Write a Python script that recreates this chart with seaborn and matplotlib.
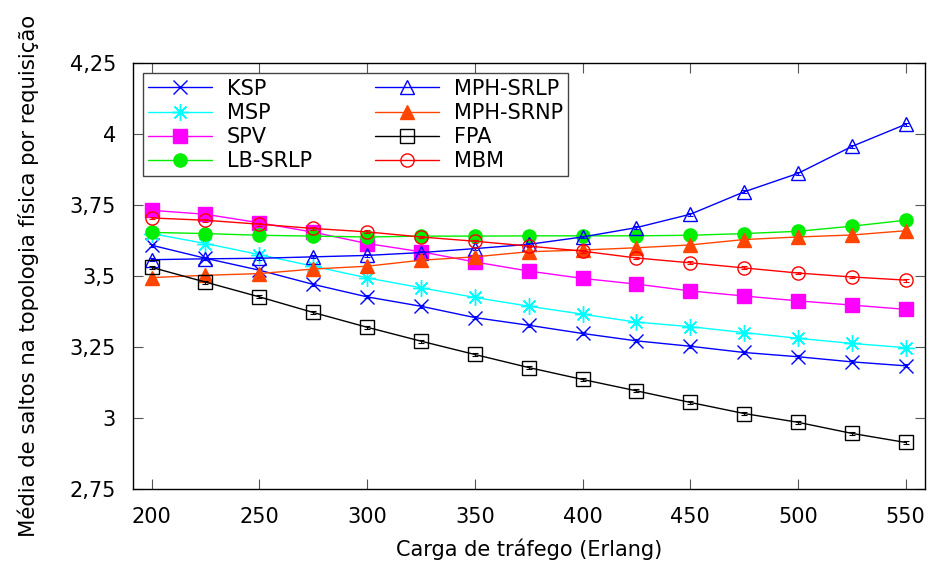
import numpy as np
import pandas as pd
import seaborn as sns
import matplotlib
matplotlib.use("Agg")
from matplotlib import pyplot as plt
from matplotlib.ticker import FixedLocator, FuncFormatter

# data
carga = [200, 225, 250, 275, 300, 325, 350, 375, 400, 425, 450, 475, 500, 525, 550]

ksp = [3.609, 3.563, 3.521, 3.471, 3.427, 3.394, 3.354, 3.327, 3.298, 3.272, 3.253, 3.231, 3.216, 3.198, 3.184]
msp = [3.650, 3.615, 3.576, 3.535, 3.494, 3.459, 3.425, 3.394, 3.366, 3.338, 3.322, 3.301, 3.281, 3.263, 3.248]
spv = [3.732, 3.718, 3.688, 3.655, 3.615, 3.586, 3.550, 3.518, 3.492, 3.472, 3.448, 3.430, 3.413, 3.398, 3.383]
lb_srlp = [3.654, 3.650, 3.644, 3.641, 3.638, 3.641, 3.641, 3.642, 3.642, 3.642, 3.644, 3.650, 3.658, 3.676, 3.697]
mph_srlp = [3.558, 3.561, 3.563, 3.568, 3.573, 3.583, 3.597, 3.612, 3.638, 3.671, 3.718, 3.797, 3.862, 3.957, 4.035]
mph_srnp = [3.495, 3.503, 3.509, 3.525, 3.535, 3.556, 3.568, 3.586, 3.592, 3.600, 3.610, 3.629, 3.638, 3.645, 3.660]
fpa = [3.531, 3.479, 3.427, 3.372, 3.320, 3.271, 3.224, 3.178, 3.136, 3.096, 3.055, 3.016, 2.985, 2.946, 2.914]
mbm = [3.705, 3.697, 3.683, 3.668, 3.656, 3.638, 3.623, 3.606, 3.588, 3.564, 3.547, 3.529, 3.511, 3.497, 3.486]

# half width of the small confidence bars
erro = [0.005, 0.005, 0.005, 0.005, 0.005, 0.005, 0.005, 0.005, 0.005, 0.005, 0.005, 0.005, 0.005, 0.005, 0.005]

nomes = ["KSP", "MSP", "SPV", "LB-SRLP", "MPH-SRLP", "MPH-SRNP", "FPA", "MBM"]
valores = [ksp, msp, spv, lb_srlp, mph_srlp, mph_srnp, fpa, mbm]
cores = ["#0000ff", "#00ffff", "#ff00ff", "#00ee00", "#0000ff", "#ff4500", "#000000", "#ff0000"]
# (8, 2, 0) is an eight arm asterisk, like gnuplot's '*'
marcadores = ["x", (8, 2, 0), "s", "o", "^", "^", "s", "o"]
tamanhos = [10, 12, 9.5, 9.5, 9.5, 9.5, 9.5, 9.5]
cheios = [True, True, True, True, False, True, False, False]

sns.set_style("ticks")
plt.rcParams['font.family'] = ['DejaVu Sans']
plt.rcParams['font.size'] = 15
plt.rcParams['text.color'] = 'black'
plt.rcParams['axes.labelcolor'] = 'black'

fig = plt.figure(figsize=(9.34, 5.65), dpi=100)
ax = fig.add_axes([0.142, 0.1345, 0.848, 0.7535])

for nome, val, cor, mk, ms, cheio in zip(nomes, valores, cores, marcadores, tamanhos, cheios):
    df = pd.DataFrame({"carga": carga, "saltos": val})
    kw = dict(mec=cor, mew=1.0)
    if cheio:
        kw["mfc"] = cor
    else:
        kw["mfc"] = "none"
    sns.lineplot(data=df, x="carga", y="saltos", ax=ax, color=cor, lw=1.0,
                 marker=mk, ms=ms, label=nome, **kw)
    ax.errorbar(carga, val, yerr=erro, fmt="none", ecolor=cor, elinewidth=0.8,
                capsize=2, capthick=0.8)

ax.set_xlim(191.2, 558.8)
ax.set_ylim(2.75, 4.25)
ax.xaxis.set_major_locator(FixedLocator([200, 250, 300, 350, 400, 450, 500, 550]))
ax.yaxis.set_major_locator(FixedLocator([2.75, 3.0, 3.25, 3.5, 3.75, 4.0, 4.25]))
ax.yaxis.set_major_formatter(FuncFormatter(lambda v, p: ("%g" % v).replace(".", ",")))

ax.tick_params(direction="in", length=7, width=0.8, top=True, right=True,
               labelsize=15, color="#555555", labelcolor="black")
ax.tick_params(axis="x", pad=13)
ax.tick_params(axis="y", pad=12)
for s in ax.spines.values():
    s.set_color("black")
    s.set_linewidth(1.0)

ax.set_xlabel("Carga de tráfego (Erlang)", fontsize=15, labelpad=8, color="black")
ax.set_ylabel("Média de saltos na topologia física por requisição", fontsize=15.3,
              labelpad=22, color="black")

leg = ax.legend(loc="upper left", bbox_to_anchor=(0.0126, 0.976), borderaxespad=0,
                ncol=2, fontsize=15, frameon=True, fancybox=False, framealpha=1,
                edgecolor="#444444", handlelength=3.1, labelspacing=0.2,
                columnspacing=3.0, handletextpad=0.7, borderpad=0.25)
leg.get_frame().set_linewidth(1.0)
for t in leg.get_texts():
    t.set_color("black")

fig.savefig("out.png", dpi=100)
